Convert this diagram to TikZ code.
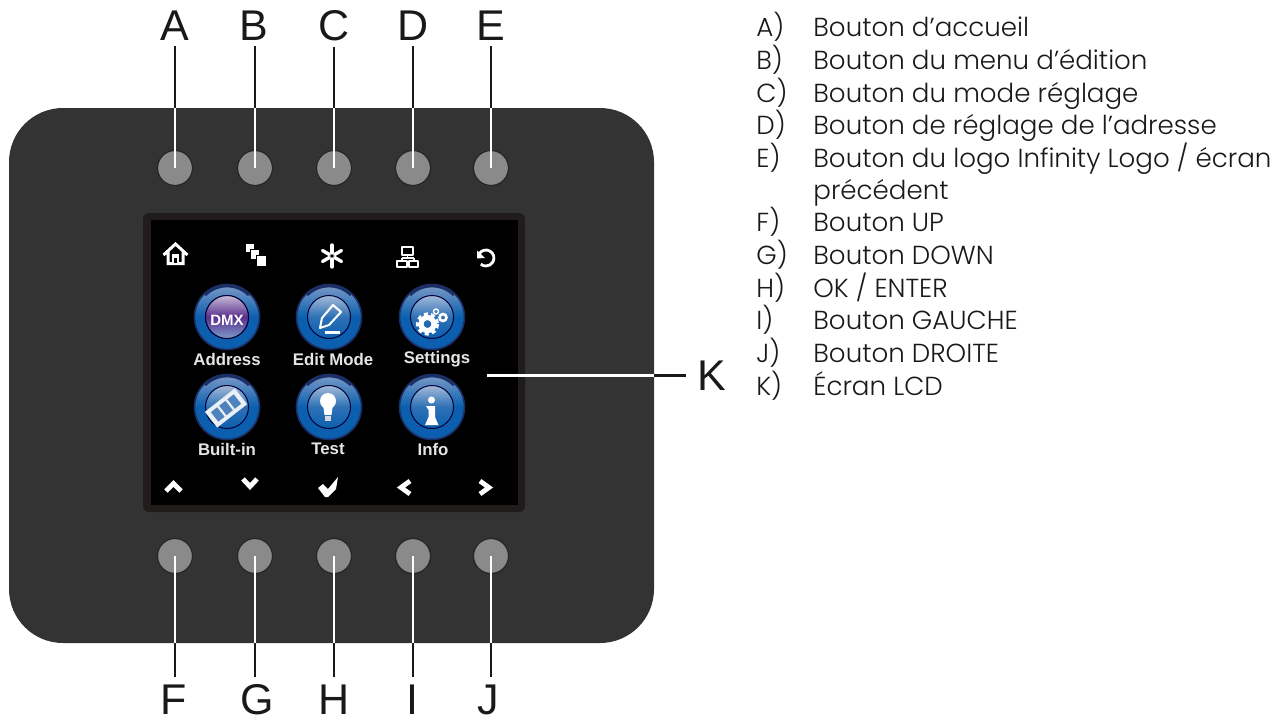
\documentclass[tikz,border=0pt]{standalone}
\usepackage{fontspec}
\setmainfont{Poppins}[UprightFont=* Light]
\newfontfamily\labelfont{Liberation Sans}
\usetikzlibrary{positioning, calc, shapes.geometric}
\definecolor{panelgrey}{HTML}{333333}
\definecolor{knobgrey}{HTML}{8A8A8A}
\definecolor{bezelgrey}{HTML}{1F1C1B}
\definecolor{glossblue}{HTML}{0B5FAE}
\definecolor{paleblue}{HTML}{7C9BC8}
\definecolor{deepblue}{HTML}{1B2F66}
\definecolor{palepurple}{HTML}{C6BBD8}
\definecolor{dmxpurple}{HTML}{5B2F8E}
\newlength{\pxu}
\setlength{\pxu}{0.5pt}
\tikzset{%
	panel/.style={draw=none, fill=panelgrey, rounded corners=27pt, minimum width=645\pxu, minimum height=535\pxu, inner sep=0mm},
	knob/.style={draw=black!85, line width=0.6pt, circle, fill=knobgrey, minimum size=35\pxu, inner sep=0mm},
	letter/.style={font=\labelfont\fontsize{21.5}{21.5}\selectfont, text=black!90, inner sep=0mm},
	blackline/.style={draw=black!90, line width=1.3pt},
	whiteline/.style={draw=white, line width=1.3pt},
	orb/.style={circle, minimum size=65\pxu, inner sep=0mm, draw=deepblue, line width=0.8pt, top color=paleblue, bottom color=glossblue, middle color=glossblue},
	orbcore/.style={circle, minimum size=43\pxu, inner sep=0mm, draw=black!80!blue, line width=0.5pt, top color=paleblue!70!white, bottom color=glossblue, middle color=glossblue!70!paleblue},
	orbcap/.style={font=\labelfont\bfseries\fontsize{8.4}{8.4}\selectfont, text=white!90!black, inner sep=0mm},
	icon/.style={white, line width=1.2pt, line join=round, line cap=round},
	chevron/.style={white, line width=2.4pt, line cap=butt, line join=miter},
	item/.style={font=\fontsize{13.05}{13.05}\selectfont, anchor=base west, inner sep=0mm, text=black!90}
}
\begin{document}
\begin{tikzpicture}[x=0.5pt, y=-0.5pt]
	\useasboundingbox (0,0) rectangle (1284,718);
	%housing
	\node [panel] (P) at (331.5,375.5) {};
	\node [fill=bezelgrey, rounded corners=3pt, minimum width=382\pxu, minimum height=299\pxu, inner sep=0mm] (B) at (334,362.5) {};
	\node [fill=black, minimum width=367\pxu, minimum height=285\pxu, inner sep=0mm] (S) at (334.5,362.5) {};

	%knobs and letters, top row
	\foreach \name/\x/\lx in {A/175/175, B/255/254, C/334/334, D/413/413, E/491/491}{
		\node [knob] (k\name) at (\x,168) {};
		\node [letter] (l\name) at (\lx,26) {\name};
		\draw [blackline] (k\name|-l\name.south) ++(0,-5\pxu) -- (k\name|-P.north);
		\draw [whiteline] (k\name|-P.north) -- (k\name.center);
	}
	%bottom row
	\foreach \name/\x/\lx in {F/175/174, G/255/257, H/334/334, I/413/412, J/491/488}{
		\node [knob] (k\name) at (\x,556) {};
		\node [letter] (l\name) at (\lx,699.5) {\name};
		\draw [blackline] (k\name|-l\name.north) ++(0,7\pxu) -- (k\name|-P.south);
		\draw [whiteline] (k\name|-P.south) -- (k\name.center);
	}
	%screen pointer
	\node [letter] (lK) at (711.5,375.5) {K};
	\coordinate (kend) at (487,375.5);
	\draw [blackline] (lK.west) ++(-11\pxu,0) -- (P.east|-lK.west);
	\draw [whiteline] (P.east|-lK.west) -- (kend);

	%top icons
	\draw [icon, line width=1.5pt, line join=miter, line cap=butt] (163.5,255) -- (175.5,244) -- (187.5,255) (168,252) -- (168,263.5) -- (183,263.5) -- (183,252);
	\fill [white] (172,254) rectangle (179,263);
	\fill [black] (174,258) rectangle (177,263);
	\fill [white] (246,244) rectangle (254,252);
	\filldraw [draw=black, fill=white, line width=0.4pt] (250,249) rectangle (259,259);
	\filldraw [draw=black, fill=white, line width=0.4pt] (256,255) rectangle (266,266);
	\foreach \a in {30,90,150,210,270,330}{
		\draw [icon, line width=1.7pt] (332,256) ++(\a:3\pxu) -- ++(\a:8\pxu);
	}
	\draw [icon, line width=0.6pt, line cap=butt] (402,247) rectangle (413,255) (407.5,255) -- (407.5,258) (402,258) -- (414,258) (402,258) -- (402,261) (414,258) -- (414,261);
	\draw [icon, line width=0.6pt] (397,261) rectangle (407,267) (409,261) rectangle (418,267);
	\draw [icon, line width=1.4pt, line cap=butt] (479,254) arc (150:-130:8\pxu);
	\fill [white] (477,250.5) -- (485,258) -- (477,258.5) -- cycle;

	%menu orbs
	\foreach \name/\x/\y in {a/227/317, e/329/317, s/432/317, u/227/407, t/329/407, i/432/407}{
		\node [orb] (o\name) at (\x,\y) {};
		\draw [deepblue, line width=1.4pt] (\x,\y) ++(135:31\pxu) arc (135:45:31\pxu);
		\node [orbcore] (c\name) at (\x,\y) {};
	}
	\node [orbcore, top color=palepurple, bottom color=paleblue, middle color=dmxpurple] (cdmx) at (227,317) {};
	\node [orbcap] (ca) at (227,359) {Address};
	\node [orbcap] (ce) at (333,359) {Edit Mode};
	\node [orbcap] (cs) at (437,359) {Settings};
	\node [orbcap] (cu) at (227,449) {Built-in};
	\node [orbcap] (ct) at (328,449) {Test};
	\node [orbcap] (ci) at (433,449) {Info};

	%orb symbols
	\node [font=\labelfont\bfseries\fontsize{7.5}{7.5}\selectfont, text=white, inner sep=0mm] (dmx) at (227,320) {DMX};
	\draw [icon, line width=1pt] (320,328) -- (322,318) -- (333,305) -- (341,312) -- (329,325) -- cycle;
	\draw [icon, line width=1.8pt, line cap=butt] (325,332.5) -- (340,332.5);
	\draw [white, dash pattern=on 2pt off 1.6pt, line width=1.6pt] (427.5,324) circle (10);
	\draw [white, line width=2.6pt] (427.5,324) circle (6.5);
	\draw [white, line width=1.3pt] (443,317.5) circle (3.5);
	\draw [white, line width=0.7pt] (436,311.5) circle (2.5);
	\begin{scope}[shift={(226,408)}, rotate=38]
		\fill [white!85!paleblue] (-19,-10) rectangle (19,10);
		\foreach \fx in {-14.5,-4,6.5}{ \fill [paleblue!60!glossblue] (\fx,-6) rectangle ++(8,12); }
	\end{scope}
	\fill [white] (328,401) circle (8);
	\fill [white] (323,404) -- (333,404) -- (331.5,415) -- (324.5,415) -- cycle;
	\fill [white!85!black] (325,416) rectangle (331,421);
	\fill [white] (431.5,400) circle (3.5);
	\fill [white] (426,406) -- (435,406) -- (435,417) -- (438.5,425) -- (425,425) -- (428.5,417) -- (428.5,410) -- cycle;

	%bottom icons
	\draw [chevron] (166,491) -- (173.5,483.5) -- (181,491);
	\draw [chevron] (243,479) -- (250,486.5) -- (257,479);
	\fill [white] (318,488) -- (323,484) -- (328,489) -- (338,477) -- (336,489) -- (328,497) -- (325,497) -- cycle;
	\draw [chevron] (410,481) -- (401,487.5) -- (410,494);
	\draw [chevron] (480,481) -- (489,487.5) -- (480,494);

	%list of parts
	\foreach \mark/\txt/\y in {A)/{Bouton d’accueil}/36.5, B)/{Bouton du menu d’édition}/69, C)/{Bouton du mode réglage}/102, D)/{Bouton de réglage de l’adresse}/134, E)/{Bouton du logo Infinity Logo / écran}/167, F)/{Bouton UP}/231.5, G)/{Bouton DOWN}/264, H)/{OK / ENTER}/297, I)/{Bouton GAUCHE}/329.5, J)/{Bouton DROITE}/362.5, K)/{Écran LCD}/395}{
		\node [item] at (756,\y) {\mark};
		\node [item] at (813,\y) {\txt};
	}
	\node [item] (prev) at (813,199) {précédent};
\end{tikzpicture}
\end{document}
